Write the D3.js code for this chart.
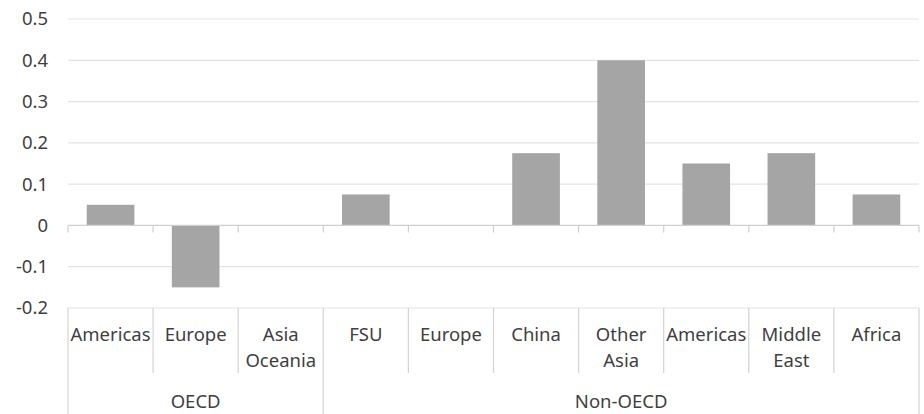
<!DOCTYPE html>
<html><head><meta charset="utf-8">
<script src="https://cdn.jsdelivr.net/npm/d3@7"></script>
<style>body{margin:0;background:#fff;}svg{display:block;font-family:"Noto Sans",sans-serif;}</style>
</head><body><svg id="c" width="924" height="414"></svg>
<script>
const categories = ["Americas","Europe","Asia\nOceania","FSU","Europe","China","Other\nAsia","Americas","Middle\nEast","Africa"];
const groups = ["OECD","OECD","OECD","Non-OECD","Non-OECD","Non-OECD","Non-OECD","Non-OECD","Non-OECD","Non-OECD"];
const values = [0.05,-0.15,0,0.075,0,0.175,0.4,0.15,0.175,0.075];
const yTicks = [-0.2,-0.1,0,0.1,0.2,0.3,0.4,0.5];

(function(){
const svg = d3.select("#c");
const mLeft = 68, mRight = 919, mTop = 19, mBottom = 308;
const idx = d3.range(categories.length);
const x = d3.scaleBand().domain(idx).range([mLeft,mRight]).paddingInner(0.44).paddingOuter(0.22);
const xb = d3.scaleBand().domain(idx).range([mLeft,mRight]);
const y = d3.scaleLinear().domain([-0.2,0.5]).range([mBottom,mTop]);
const textCol = "#3f3f3f";
const fs = 18.5;
const fmt = d => d===0 ? "0" : d3.format(".1f")(d).replace("\u2212","-");

// gridlines
svg.append("g").selectAll("line").data(yTicks.filter(d=>d!==0)).join("line")
  .attr("x1",mLeft).attr("x2",mRight).attr("y1",d=>y(d)).attr("y2",d=>y(d))
  .attr("stroke","#e3e3e3").attr("stroke-width",1.2);
// y labels
svg.append("g").selectAll("text").data(yTicks).join("text")
  .attr("x",48).attr("y",d=>y(d)).attr("dy","0.35em").attr("text-anchor","end")
  .attr("font-size",fs).attr("fill",textCol).text(fmt);
// bars
svg.append("g").selectAll("rect").data(values).join("rect")
  .attr("x",(d,i)=>x(i)).attr("width",x.bandwidth())
  .attr("y",d=>y(Math.max(0,d))).attr("height",d=>Math.abs(y(d)-y(0)))
  .attr("fill","#a5a5a5");
// zero axis
svg.append("line").attr("x1",mLeft).attr("x2",mRight).attr("y1",y(0)).attr("y2",y(0))
  .attr("stroke","#cfcfcf").attr("stroke-width",1.2);
const bounds = idx.map(i=>xb(i)).concat([mRight]);
svg.append("g").selectAll("line").data(bounds).join("line")
  .attr("x1",d=>d).attr("x2",d=>d).attr("y1",y(0)).attr("y2",y(0)+7)
  .attr("stroke","#cfcfcf").attr("stroke-width",1.2);
// category axis separators
const groupStart = idx.filter(i=>i===0||groups[i]!==groups[i-1]);
svg.append("g").selectAll("line").data(bounds).join("line")
  .attr("x1",d=>d).attr("x2",d=>d).attr("y1",mBottom)
  .attr("y2",(d,k)=>(k===bounds.length-1||groupStart.includes(k))?414:373)
  .attr("stroke","#d3d3d3").attr("stroke-width",1.2);
// category labels
const lab = svg.append("g").selectAll("text").data(categories).join("text")
  .attr("text-anchor","middle").attr("font-size",fs).attr("fill",textCol);
lab.each(function(d,i){
  const t=d3.select(this); const cx=xb(i)+xb.bandwidth()/2;
  d.split("\n").forEach((s,j)=>t.append("tspan").attr("x",cx).attr("y",341+j*25.5).text(s));
});
// group labels
const gnames = [...new Set(groups)];
svg.append("g").selectAll("text").data(gnames).join("text")
  .attr("x",g=>{const ii=idx.filter(i=>groups[i]===g);return (xb(ii[0])+xb(ii[ii.length-1])+xb.bandwidth())/2;})
  .attr("y",408).attr("text-anchor","middle").attr("font-size",fs).attr("fill",textCol).text(g=>g);
})();
</script></body></html>
